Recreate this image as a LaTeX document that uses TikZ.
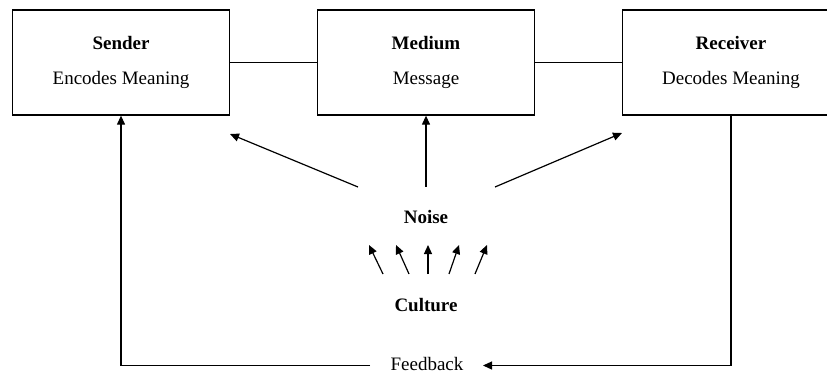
\documentclass[tikz,border=0pt]{standalone}
\usepackage{fontspec}
\setmainfont{Liberation Serif}
\usetikzlibrary{arrows.meta}
\begin{document}
\begin{tikzpicture}[x=1pt,y=-1pt,
  box/.style={draw, line width=1.3pt, minimum width=217pt, minimum height=105pt, inner sep=0pt, align=center, font=\fontsize{19}{35}\selectfont},
  conn/.style={line width=1.2pt},
  arr/.style={line width=1.2pt, -{Triangle[length=9pt,width=8pt]}},
  lbl/.style={font=\fontsize{19}{22}\selectfont, inner sep=0pt}
]
\useasboundingbox (0,0) rectangle (827,374);
\clip (0,0) rectangle (827,374);
\node[box] (sender) at (121,62.5) {\textbf{Sender}\\Encodes Meaning};
\node[box] (medium) at (426,62.5) {\textbf{Medium}\\Message};
\node[box] (receiver) at (731,62.5) {\textbf{Receiver}\\Decodes Meaning};
\draw[conn] (sender) -- (medium);
\draw[conn] (medium) -- (receiver);

\node[lbl] (noise) at (426,217) {\textbf{Noise}};
\node[lbl] (culture) at (426,305) {\textbf{Culture}};
\node[lbl, anchor=base] (feedback) at (427,370) {Feedback};

% noise arrows
\coordinate (nl) at (358,187);
\coordinate (nlt) at (230,134);
\coordinate (nm) at (426,187);
\coordinate (nr) at (495,187);
\coordinate (nrt) at (622,133);
\draw[arr] (nl) -- (nlt);
\draw[arr] (nm) -- (medium.south);
\draw[arr] (nr) -- (nrt);

% culture arrows
\foreach \i/\bx/\tx in {1/383/369, 2/409/396, 3/428/428, 4/449/459, 5/475/487}{
  \coordinate (cb\i) at (\bx,274);
  \coordinate (ct\i) at (\tx,245);
  \draw[arr] (cb\i) -- (ct\i);
}

% feedback
\coordinate (rc) at (731,365.5);
\coordinate (sc) at (121,365.5);
\coordinate (fr) at (483,365.5);
\coordinate (fl) at (370,365.5);
\draw[arr] (receiver.south) -- (rc) -- (fr);
\draw[arr] (fl) -- (sc) -- (sender.south);
\end{tikzpicture}
\end{document}
